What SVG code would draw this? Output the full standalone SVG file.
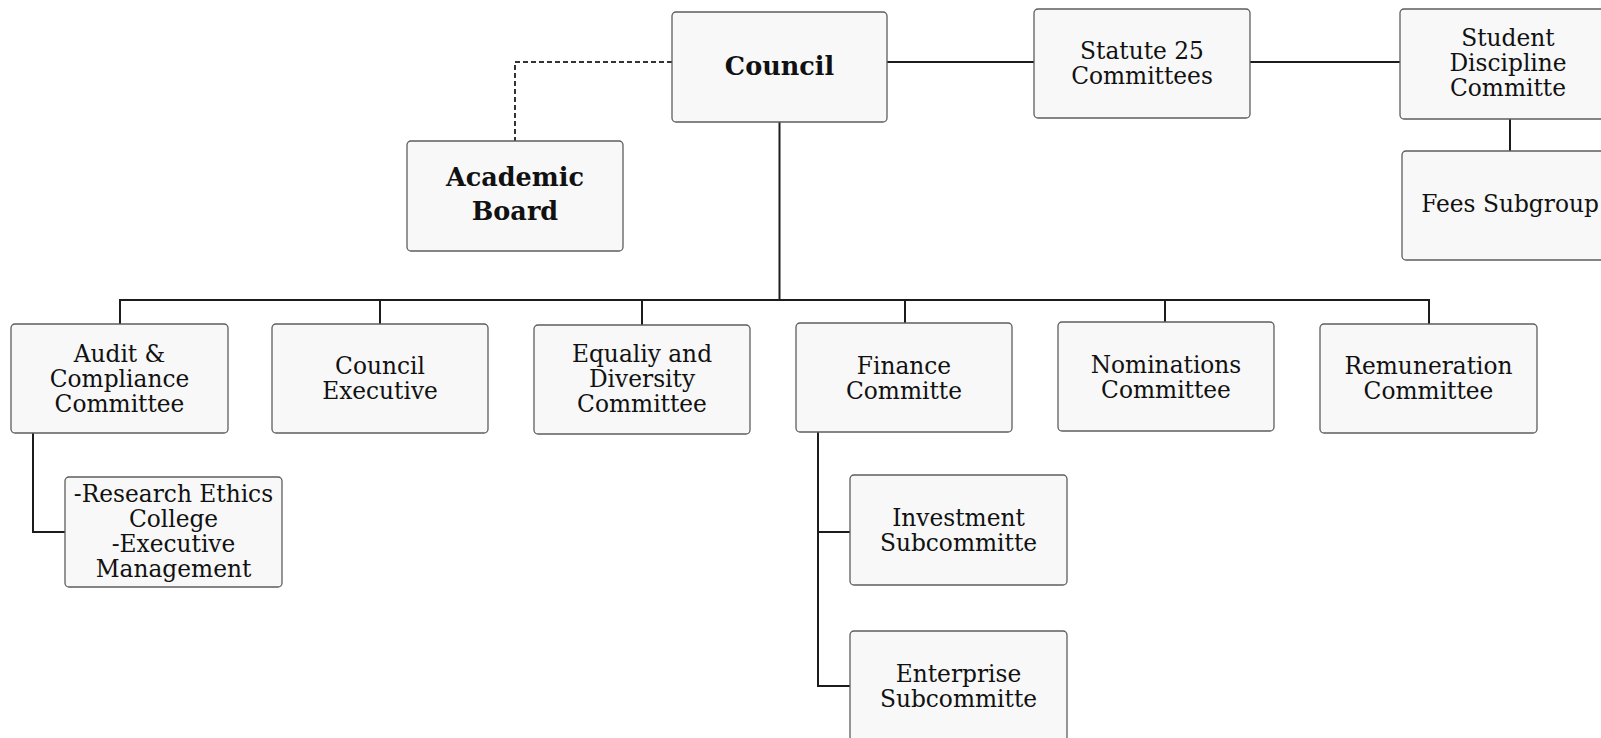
<svg xmlns="http://www.w3.org/2000/svg" width="1601" height="738" viewBox="0 0 1601 738">
  <style>
    .box { fill: #f8f8f8; stroke: #5e5e5e; stroke-width: 1.3; }
    .lbl { font-family: "DejaVu Serif", "Liberation Serif", serif; font-size: 23.3px; fill: #111; text-anchor: middle; }
    .bold { font-weight: bold; font-size: 25.5px; }
    .link { fill: none; stroke: #1c1c1c; stroke-width: 2; }
    .dash { fill: none; stroke: #333333; stroke-width: 2; stroke-dasharray: 5 3; }
  </style>
  <rect width="1601" height="738" fill="#ffffff"/>

  <!-- connectors -->
  <g id="connectors">
    <path class="dash" d="M672 62 H515 V141"/>
    <path class="link" d="M887 62 H1034"/>
    <path class="link" d="M1250 62 H1400"/>
    <path class="link" d="M1510 119 V151"/>
    <path class="link" d="M779.5 122 V300"/>
    <path class="link" d="M120 324 V300 H1429 V324"/>
    <path class="link" d="M380 300 V324"/>
    <path class="link" d="M642 300 V325"/>
    <path class="link" d="M905 300 V323"/>
    <path class="link" d="M1165 300 V322"/>
    <path class="link" d="M33 433 V532 H65"/>
    <path class="link" d="M818 432 V686 H850"/>
    <path class="link" d="M818 532 H850"/>
  </g>

  <g id="council">
    <rect class="box" x="672" y="12" width="215" height="110" rx="4"/>
    <text class="lbl bold" x="779.5" y="75">Council</text>
  </g>

  <g id="academic-board">
    <rect class="box" x="407" y="141" width="216" height="110" rx="4"/>
    <text class="lbl bold" x="515" y="186">Academic</text>
    <text class="lbl bold" x="515" y="220">Board</text>
  </g>

  <g id="statute-25">
    <rect class="box" x="1034" y="9" width="216" height="109" rx="4"/>
    <text class="lbl" x="1142" y="59">Statute 25</text>
    <text class="lbl" x="1142" y="84">Committees</text>
  </g>

  <g id="student-discipline">
    <rect class="box" x="1400" y="9" width="216" height="110" rx="4"/>
    <text class="lbl" x="1508" y="46">Student</text>
    <text class="lbl" x="1508" y="71">Discipline</text>
    <text class="lbl" x="1508" y="96">Committe</text>
  </g>

  <g id="fees-subgroup">
    <rect class="box" x="1402" y="151" width="216" height="109" rx="4"/>
    <text class="lbl" x="1510" y="212">Fees Subgroup</text>
  </g>

  <g id="audit">
    <rect class="box" x="11" y="324" width="217" height="109" rx="4"/>
    <text class="lbl" x="119.5" y="362">Audit &amp;</text>
    <text class="lbl" x="119.5" y="387">Compliance</text>
    <text class="lbl" x="119.5" y="412">Committee</text>
  </g>

  <g id="council-executive">
    <rect class="box" x="272" y="324" width="216" height="109" rx="4"/>
    <text class="lbl" x="380" y="374">Council</text>
    <text class="lbl" x="380" y="399">Executive</text>
  </g>

  <g id="equality-diversity">
    <rect class="box" x="534" y="325" width="216" height="109" rx="4"/>
    <text class="lbl" x="642" y="362">Equaliy and</text>
    <text class="lbl" x="642" y="387">Diversity</text>
    <text class="lbl" x="642" y="412">Committee</text>
  </g>

  <g id="finance">
    <rect class="box" x="796" y="323" width="216" height="109" rx="4"/>
    <text class="lbl" x="904" y="374">Finance</text>
    <text class="lbl" x="904" y="399">Committe</text>
  </g>

  <g id="nominations">
    <rect class="box" x="1058" y="322" width="216" height="109" rx="4"/>
    <text class="lbl" x="1166" y="373">Nominations</text>
    <text class="lbl" x="1166" y="398">Committee</text>
  </g>

  <g id="remuneration">
    <rect class="box" x="1320" y="324" width="217" height="109" rx="4"/>
    <text class="lbl" x="1428.5" y="374">Remuneration</text>
    <text class="lbl" x="1428.5" y="399">Committee</text>
  </g>

  <g id="research-ethics">
    <rect class="box" x="65" y="477" width="217" height="110" rx="4"/>
    <text class="lbl" x="173.5" y="502">-Research Ethics</text>
    <text class="lbl" x="173.5" y="527">College</text>
    <text class="lbl" x="173.5" y="552">-Executive</text>
    <text class="lbl" x="173.5" y="577">Management</text>
  </g>

  <g id="investment">
    <rect class="box" x="850" y="475" width="217" height="110" rx="4"/>
    <text class="lbl" x="958.5" y="526">Investment</text>
    <text class="lbl" x="958.5" y="551">Subcommitte</text>
  </g>

  <g id="enterprise">
    <rect class="box" x="850" y="631" width="217" height="110" rx="4"/>
    <text class="lbl" x="958.5" y="682">Enterprise</text>
    <text class="lbl" x="958.5" y="707">Subcommitte</text>
  </g>
</svg>
